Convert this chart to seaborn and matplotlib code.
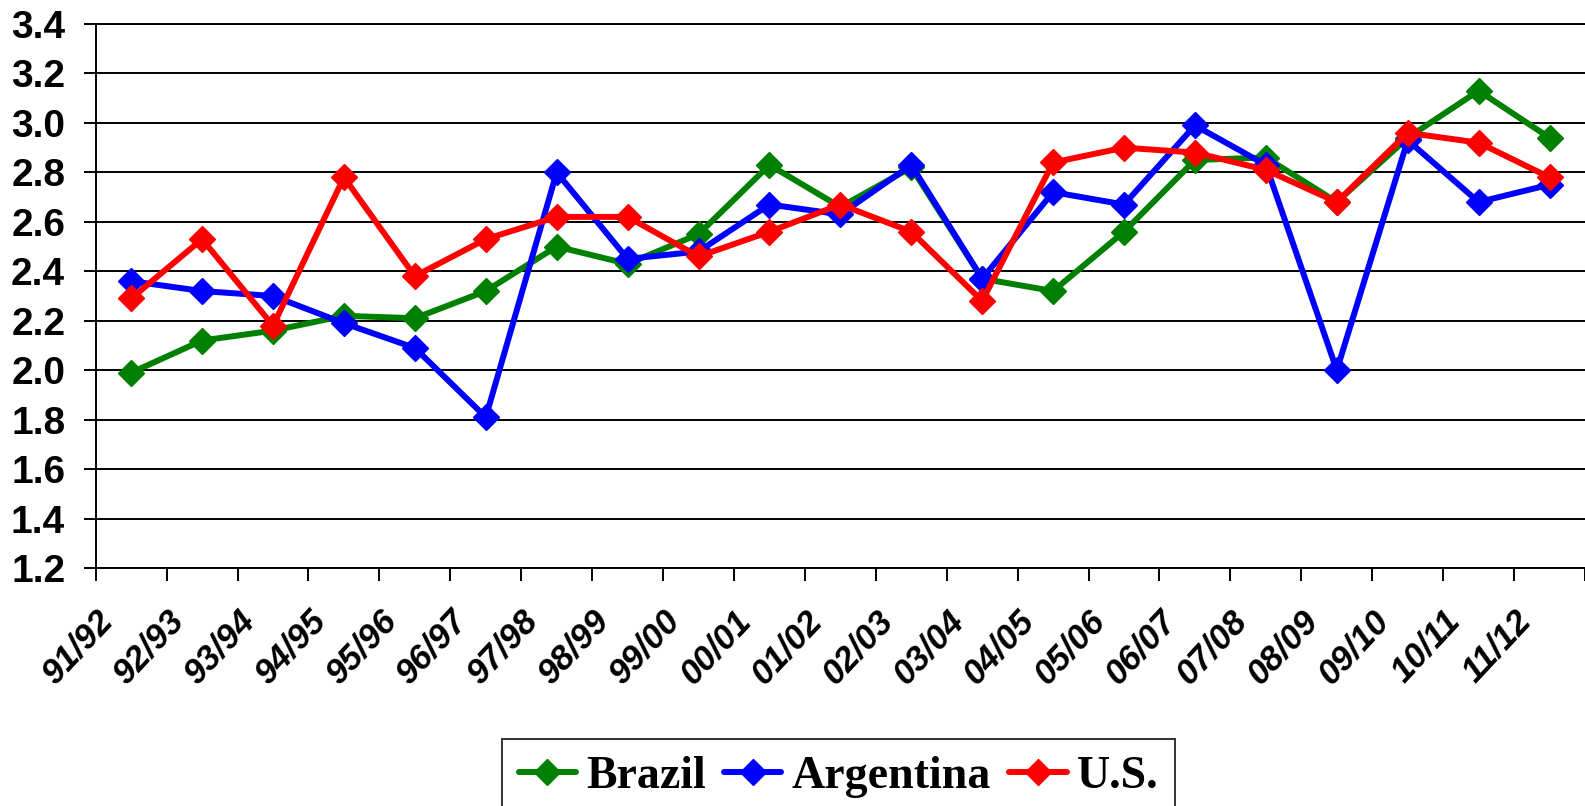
"""
Soybean yields: Brazil, Argentina and U.S. by season
"""
import matplotlib
matplotlib.use('Agg')
import matplotlib.pyplot as plt
import matplotlib.transforms as mtransforms
import seaborn as sns
import numpy as np
import pandas as pd

# Data
seasons = ['91/92', '92/93', '93/94', '94/95', '95/96', '96/97', '97/98',
           '98/99', '99/00', '00/01', '01/02', '02/03', '03/04', '04/05',
           '05/06', '06/07', '07/08', '08/09', '09/10', '10/11', '11/12']
brazil = [1.99, 2.12, 2.16, 2.22, 2.21, 2.32, 2.50, 2.43, 2.55, 2.83, 2.66,
          2.82, 2.37, 2.32, 2.56, 2.85, 2.86, 2.68, 2.94, 3.13, 2.94]
argentina = [2.36, 2.32, 2.30, 2.19, 2.09, 1.81, 2.80, 2.45, 2.48, 2.67, 2.63,
             2.83, 2.37, 2.72, 2.67, 2.99, 2.83, 2.00, 2.93, 2.68, 2.75]
us = [2.29, 2.53, 2.18, 2.78, 2.38, 2.53, 2.62, 2.62, 2.46, 2.56, 2.67,
      2.56, 2.28, 2.84, 2.90, 2.88, 2.81, 2.68, 2.96, 2.92, 2.78]
countries = ['Brazil', 'Argentina', 'U.S.']
colors = ['#008000', '#0000FF', '#FF0000']

# Long-format table for seaborn
pos = np.arange(len(seasons))
df = pd.concat([
    pd.DataFrame({'pos': pos, 'value': vals, 'country': name})
    for name, vals in zip(countries, [brazil, argentina, us])
], ignore_index=True)

sns.set_style('white')
plt.rcParams['text.color'] = 'black'
plt.rcParams['xtick.color'] = 'black'
plt.rcParams['ytick.color'] = 'black'

fig = plt.figure(figsize=(15.85, 8.06), dpi=100)
ax = fig.add_axes([0.0604, 0.2953, 0.9396, 0.6749])

sns.lineplot(data=df, x='pos', y='value', hue='country', style='country',
             hue_order=countries, style_order=countries,
             palette=dict(zip(countries, colors)),
             markers={c: 'D' for c in countries}, dashes=False,
             linewidth=4.3, markersize=13, markeredgewidth=1,
             ax=ax, legend=True)

# solid markers, no white edge
for line in ax.lines:
    line.set_markeredgecolor(line.get_color())

# Axes limits and grid
yticks = np.arange(1.2, 3.41, 0.2)
ax.set_xlim(-0.5, len(seasons) - 0.5)
ax.set_ylim(1.2, 3.4)
ax.set_yticks(yticks)
ax.set_yticklabels([f'{v:.1f}' for v in yticks], color='black',
                   fontfamily='Liberation Sans', fontweight='bold', fontsize=28)
ax.yaxis.grid(True, color='black', linewidth=1.4)
ax.set_axisbelow(True)
ax.set_xlabel('')
ax.set_ylabel('')

ax.set_xticks(pos)
ax.set_xticks(np.arange(-0.5, len(seasons)), minor=True)
ax.set_xticklabels(seasons, rotation=47, ha='right', va='center',
                   rotation_mode='anchor', fontfamily='Liberation Sans',
                   fontweight='bold', fontstyle='italic', fontsize=25,
                   color='black')
ax.tick_params(axis='x', which='major', length=0, pad=34)
ax.tick_params(axis='x', which='minor', length=9.5, width=1.4,
               color='black', direction='out', bottom=True)
ax.tick_params(axis='y', length=9, width=1.4, color='black',
               direction='out', left=True, pad=13)

offset = mtransforms.ScaledTranslation(-0.24, 0, fig.dpi_scale_trans)
for lbl in ax.get_xticklabels():
    lbl.set_transform(lbl.get_transform() + offset)

for side in ['left', 'bottom', 'top']:
    ax.spines[side].set_color('black')
    ax.spines[side].set_linewidth(1.4)
ax.spines['right'].set_visible(False)

# Legend below, cut by the figure edge like the original
handles, labels = ax.get_legend_handles_labels()
ax.legend_.remove()
for h in handles:
    h.set_markeredgecolor(h.get_color())
leg = fig.legend(handles, labels, loc='upper center', ncol=3,
                 bbox_to_anchor=(0.529, 1 - 739 / 806), borderaxespad=0,
                 prop={'family': 'Liberation Serif', 'weight': 'bold', 'size': 33},
                 frameon=True, fancybox=False, edgecolor='black',
                 handlelength=1.25, handletextpad=0.22, columnspacing=0.4,
                 borderpad=0.36)
leg.get_frame().set_linewidth(1.4)

fig.savefig('out.png', dpi=100)
plt.close()
